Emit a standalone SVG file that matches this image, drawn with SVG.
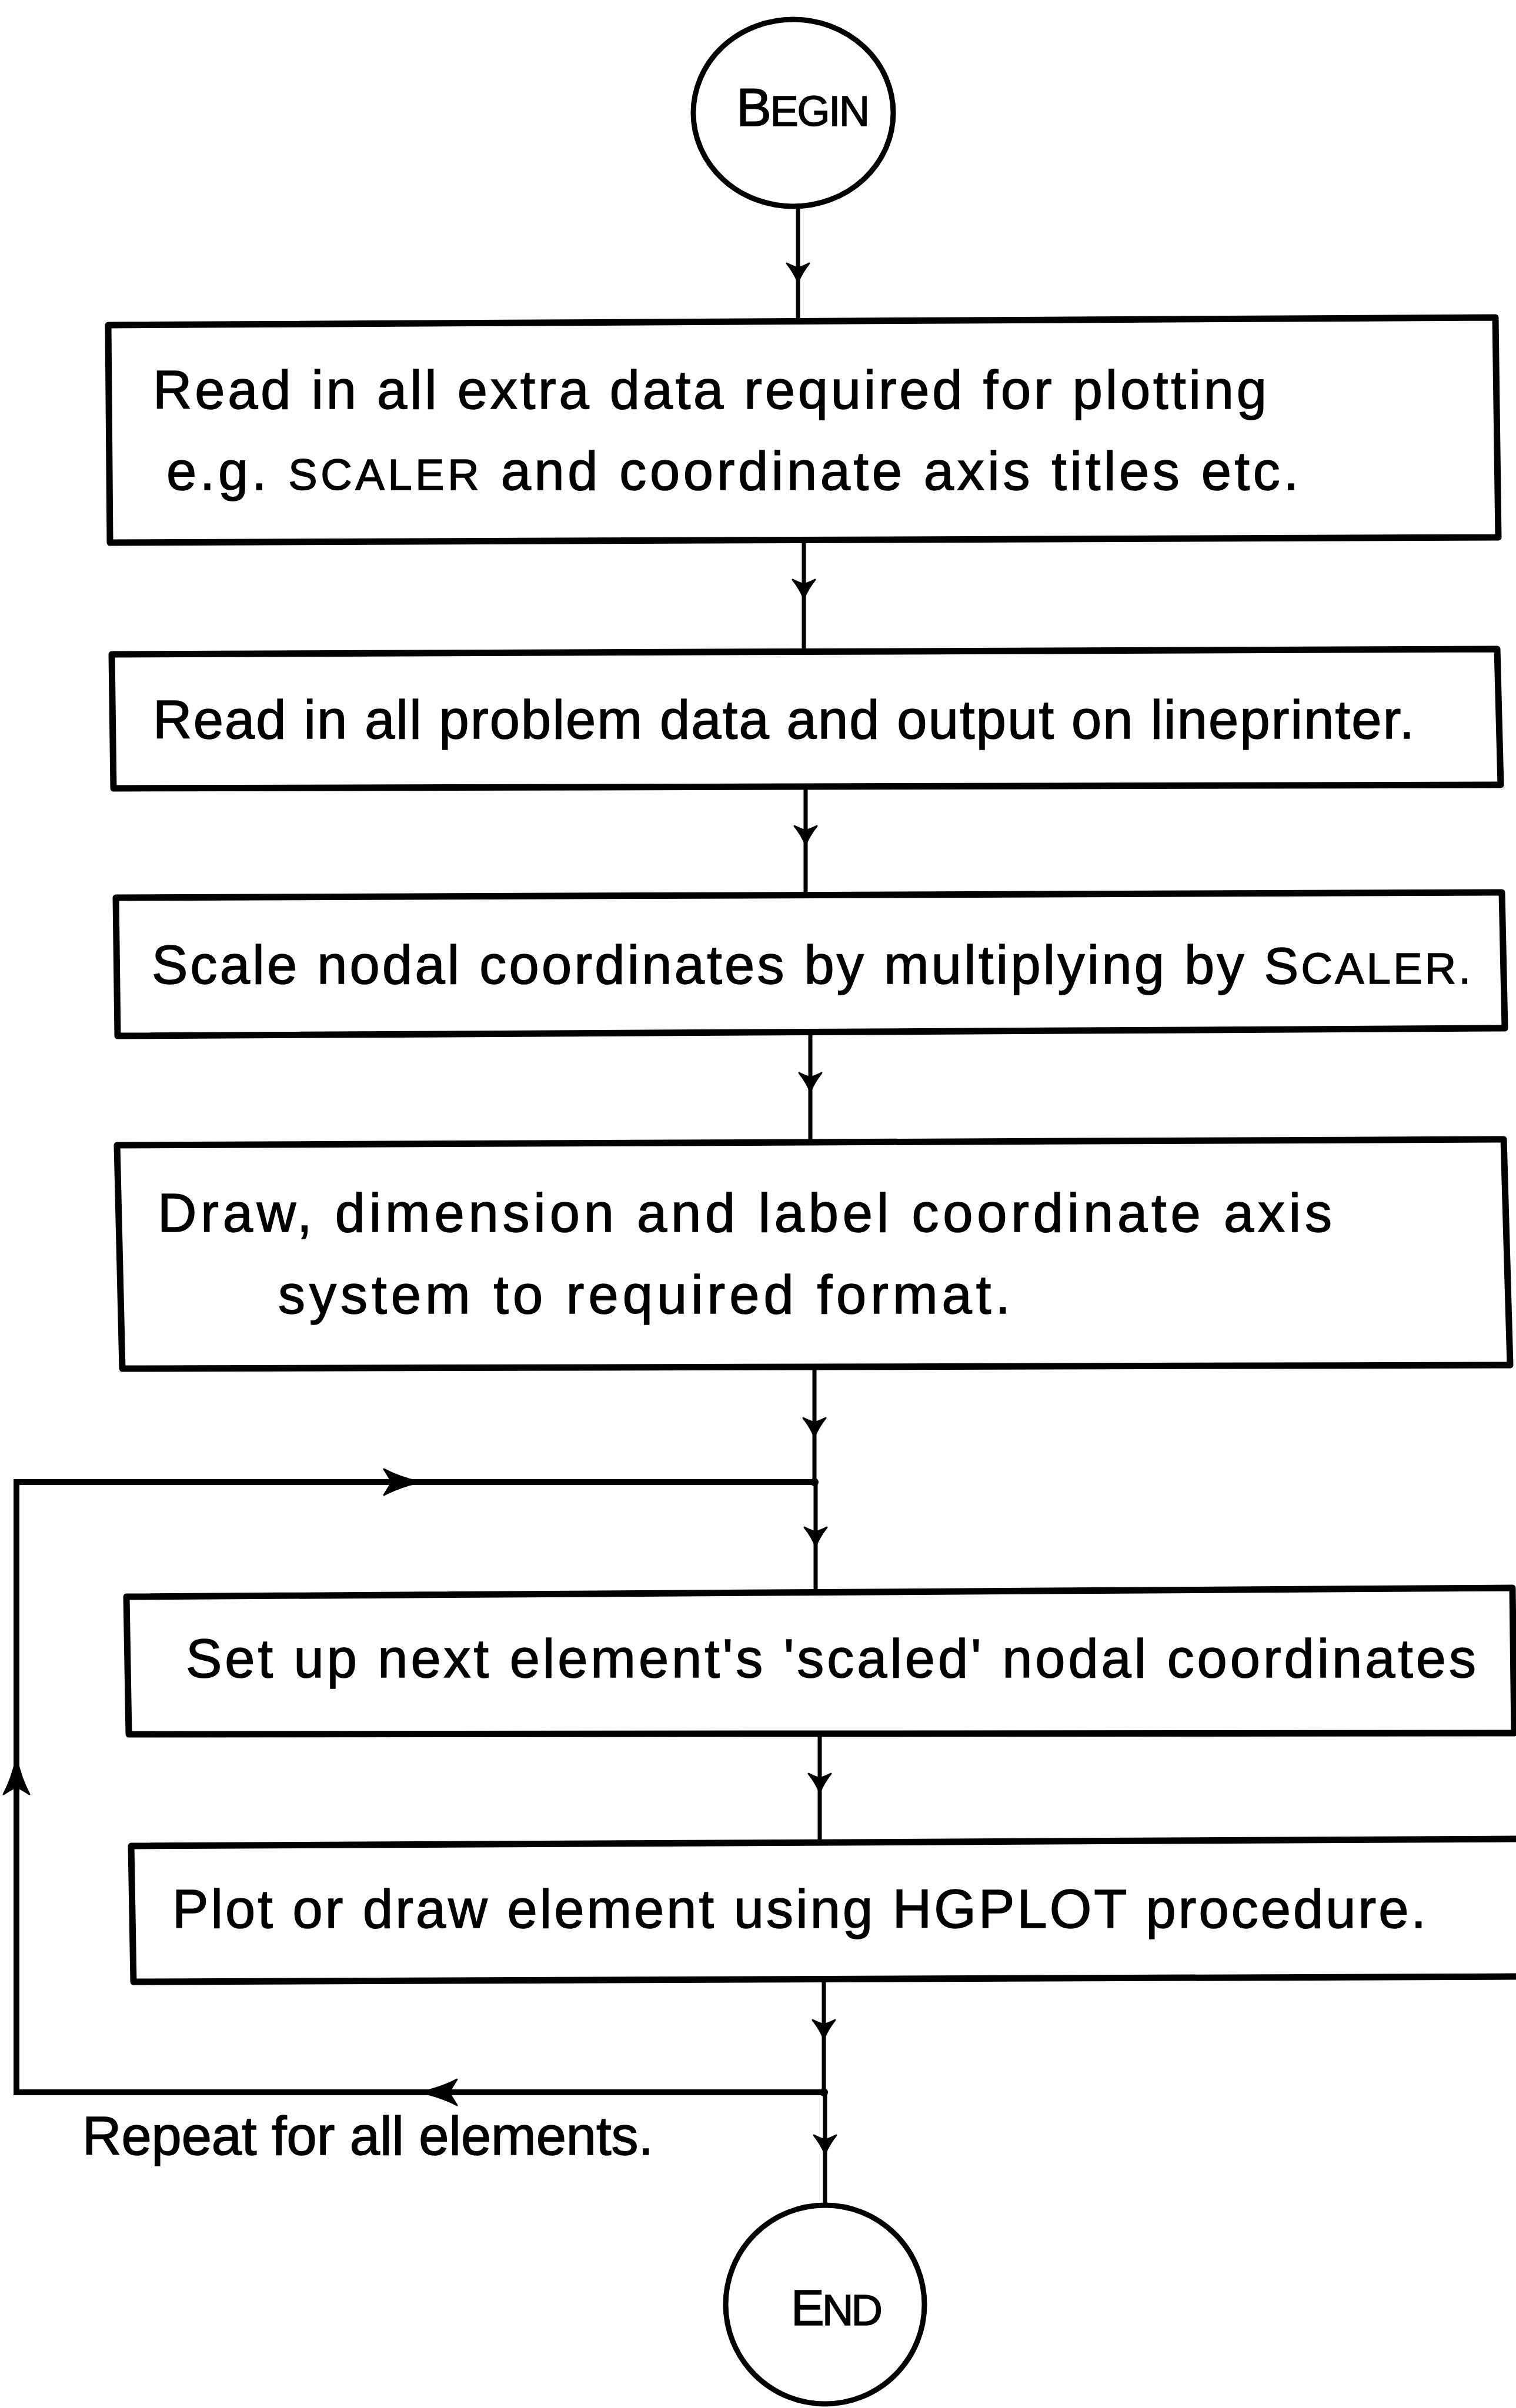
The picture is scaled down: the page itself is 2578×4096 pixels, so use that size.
<svg xmlns="http://www.w3.org/2000/svg" xmlns:xlink="http://www.w3.org/1999/xlink" width="2578" height="4096" viewBox="0 0 2578 4096">
<style>
.bg{fill:#ffffff}
.box{fill:none;stroke:#000;stroke-width:11;stroke-linejoin:round}
.term{fill:none;stroke:#000;stroke-width:9}
.conn{fill:none;stroke:#000;stroke-width:7;stroke-linecap:round}
.loop{fill:none;stroke:#000;stroke-width:10;stroke-linecap:round}
.head{fill:#000;stroke:#000;stroke-width:3;stroke-linejoin:round}
.t{font-family:"Liberation Sans","DejaVu Sans",sans-serif;font-size:92px;fill:#000;stroke:#000;stroke-width:1.5}
.sc{font-size:74px}
</style>
<defs>
<path id="ah" d="M0,0 C-10,-4 -22,-11 -32,-19 C-27,-9 -25,-4 -25,0 C-25,4 -27,9 -32,19 C-22,11 -10,4 0,0 Z"/>
<path id="ahL" d="M0,0 C-18,-4 -42,-11 -62,-22 C-54,-9 -50,-4 -50,0 C-50,4 -54,9 -62,22 C-42,11 -18,4 0,0 Z"/>
</defs>
<rect class="bg" x="0" y="0" width="2578" height="4096"/>

<g id="connectors">
<line class="conn" x1="1357" y1="350" x2="1357" y2="544"/>
<line class="conn" x1="1367" y1="918" x2="1367" y2="1108"/>
<line class="conn" x1="1370" y1="1338" x2="1370" y2="1521"/>
<line class="conn" x1="1378" y1="1755" x2="1378" y2="1943"/>
<line class="conn" x1="1385" y1="2325" x2="1385" y2="2521"/>
<line class="conn" x1="1387" y1="2521" x2="1387" y2="2709"/>
<line class="conn" x1="1394" y1="2949" x2="1394" y2="3135"/>
<line class="conn" x1="1401" y1="3367" x2="1401" y2="3559"/>
<line class="conn" x1="1403" y1="3559" x2="1403" y2="3752"/>
<use href="#ah" class="head" transform="translate(1357,480) rotate(90)"/>
<use href="#ah" class="head" transform="translate(1367,1018) rotate(90)"/>
<use href="#ah" class="head" transform="translate(1370,1437) rotate(90)"/>
<use href="#ah" class="head" transform="translate(1378,1857) rotate(90)"/>
<use href="#ah" class="head" transform="translate(1385,2444) rotate(90)"/>
<use href="#ah" class="head" transform="translate(1387,2630) rotate(90)"/>
<use href="#ah" class="head" transform="translate(1394,3049) rotate(90)"/>
<use href="#ah" class="head" transform="translate(1401,3468) rotate(90)"/>
<use href="#ah" class="head" transform="translate(1403,3664) rotate(90)"/>
<polyline class="loop" points="1401,3559 28,3559 28,2521 1385,2521"/>
<use href="#ahL" class="head" transform="translate(715,2521)"/>
<use href="#ahL" class="head" transform="translate(28,2990) rotate(-90)"/>
<use href="#ahL" class="head" transform="translate(715,3559) rotate(180)"/>
<circle cx="1385" cy="2521" r="7" fill="#000"/>
<circle cx="1401" cy="3559" r="7" fill="#000"/>
</g>

<g id="begin">
<ellipse class="term" cx="1349" cy="192" rx="170" ry="159"/>
<text class="t" x="1252" y="214" textLength="227" lengthAdjust="spacing"><tspan style="font-size:90px">B</tspan><tspan style="font-size:72px">EGIN</tspan></text>
</g>

<g id="box1">
<path class="box" d="M184,553 L2543,540 L2548,914 L187,923 Z"/>
<text class="t" x="260" y="695" textLength="1894" lengthAdjust="spacing">Read in all extra data required for plotting</text>
<text class="t" x="283" y="833" textLength="1925" lengthAdjust="spacing">e.g. <tspan class="sc">SCALER</tspan> and coordinate axis titles etc.</text>
</g>

<g id="box2">
<path class="box" d="M190,1113 L2546,1104 L2552,1335 L193,1341 Z"/>
<text class="t" x="260" y="1256" textLength="2145" lengthAdjust="spacing">Read in all problem data and output on lineprinter.</text>
</g>

<g id="box3">
<path class="box" d="M197,1527 L2554,1518 L2559,1749 L200,1762 Z"/>
<text class="t" x="258" y="1673" textLength="2243" lengthAdjust="spacing">Scale nodal coordinates by multiplying by <tspan style="font-size:88px">S</tspan><tspan class="sc">CALER.</tspan></text>
</g>

<g id="box4">
<path class="box" d="M199,1948 L2557,1938 L2568,2322 L208,2328 Z"/>
<text class="t" x="268" y="2095" textLength="1997" lengthAdjust="spacing">Draw, dimension and label coordinate axis</text>
<text class="t" x="473" y="2234" textLength="1245" lengthAdjust="spacing">system to required format.</text>
</g>

<g id="box5">
<path class="box" d="M215,2716 L2572,2701 L2575,2948 L219,2950 Z"/>
<text class="t" x="316" y="2853" textLength="2194" lengthAdjust="spacing">Set up next element's 'scaled' nodal coordinates</text>
</g>

<g id="box6">
<path class="box" d="M223,3140 L2590,3128 L2590,3362 L227,3371 Z"/>
<text class="t" x="293" y="3279" textLength="2132" lengthAdjust="spacing">Plot or draw element using HGPLOT procedure.</text>
</g>

<g id="repeat-label">
<text class="t" x="140" y="3665" textLength="971" lengthAdjust="spacing">Repeat for all elements.</text>
</g>

<g id="end">
<circle class="term" cx="1403" cy="3920" r="169"/>
<text class="t" x="1345" y="3955" textLength="156" lengthAdjust="spacing"><tspan style="font-size:85px">E</tspan><tspan style="font-size:74px">ND</tspan></text>
</g>
</svg>
